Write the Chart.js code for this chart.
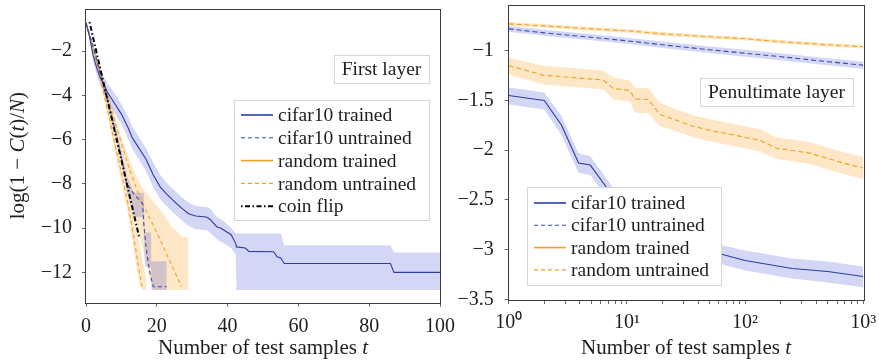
<!DOCTYPE html>
<html>
<head>
<meta charset="utf-8">
<script src="https://cdn.jsdelivr.net/npm/chart.js@4.4.0/dist/chart.umd.min.js"></script>
<style>
  body { margin: 0; background: #fff; overflow: hidden; }
  .panel { position: absolute; top: 0; }
</style>
</head>
<body>
<div class="panel" style="left:0px"><canvas id="first" width="460" height="363"></canvas></div>
<div class="panel" style="left:445px"><canvas id="penult" width="434" height="363"></canvas></div>
<script>
// series names
let names = ['cifar10 trained', 'cifar10 untrained', 'random trained', 'random untrained', 'coin flip'];

// ---------- first layer (t on a linear axis) ----------
let cifTrT  = [0, 1, 2, 3, 4, 5, 6, 8, 10, 12, 13, 15, 17, 19, 21, 23, 25, 27, 29, 31, 34, 35, 37, 38, 39, 41, 42.3, 42.5, 45, 46, 53, 54, 55, 56, 86, 87, 100];
let cifTr   = [-0.75, -1.35, -2.2, -2.75, -3.2, -3.5, -3.85, -4.35, -4.85, -5.5, -5.9, -6.4, -6.9, -7.6, -8.15, -8.5, -8.8, -9.1, -9.35, -9.45, -9.5, -9.6, -9.95, -10.0, -10.1, -10.3, -10.7, -10.85, -10.9, -11.05, -11.07, -11.3, -11.35, -11.6, -11.6, -12.0, -12.0];
let cifTrHi = [-0.7, -1.2, -1.95, -2.45, -2.85, -3.15, -3.45, -3.9, -4.4, -5.0, -5.4, -5.9, -6.4, -7.05, -7.6, -8.0, -8.3, -8.6, -8.85, -9.0, -9.05, -9.1, -9.5, -9.6, -9.7, -10.0, -10.24, -10.24, -10.24, -10.24, -10.24, -10.24, -10.24, -10.77, -10.77, -11.1, -11.1];
let cifTrLo = [-0.8, -1.5, -2.45, -3.05, -3.55, -3.85, -4.25, -4.8, -5.3, -6.0, -6.4, -6.9, -7.45, -8.15, -8.7, -9.05, -9.35, -9.65, -9.9, -10.05, -10.1, -10.2, -10.5, -10.6, -10.7, -10.9, -11.2, -12.8, -12.8, -12.8, -12.8, -12.8, -12.8, -12.8, -12.8, -12.8, -12.8];

let cifUnT  = [0, 2, 4, 6, 8, 10, 11.5, 13.5, 16, 16.3, 17, 18, 19, 22.8];
let cifUn   = [-0.73, -1.8, -3.0, -4.2, -5.4, -6.8, -8.0, -8.45, -8.9, -9.8, -10.9, -12.0, -12.65, -12.65];
let cifUnBT = [0, 2, 4, 6, 8, 10, 11.5, 13.4, 16.3, 16.6, 18.4, 18.5, 22.8];
let cifUnHi = [-0.68, -1.7, -2.85, -4.05, -5.2, -6.5, -7.6, -8.4, -8.4, -10.2, -10.2, -11.5, -11.5];
let cifUnLo = [-0.78, -1.9, -3.15, -4.35, -5.6, -7.0, -8.3, -9.5, -9.5, -11.75, -11.75, -12.8, -12.8];

let rndTrT  = [0, 2, 4, 6, 8, 10, 12, 14, 16, 18, 20, 22, 24, 26, 27];
let rndTr   = [-0.73, -1.8, -2.9, -4.0, -5.1, -6.15, -7.2, -8.1, -8.9, -9.55, -10.2, -10.9, -11.6, -12.3, -12.65];
let rndTrBT = [0, 2, 4, 6, 8, 10, 12, 14, 16, 18, 19, 20, 22, 24, 26, 27, 29];
let rndTrHi = [-0.65, -1.65, -2.7, -3.8, -4.85, -5.9, -6.8, -7.6, -8.2, -8.6, -8.8, -9.0, -9.4, -9.9, -10.2, -10.4, -10.4];
let rndTrLo = [-0.8, -2.0, -3.2, -4.5, -5.8, -7.0, -8.3, -9.6, -10.9, -12.2, -12.8, -12.8, -12.8, -12.8, -12.8, -12.8, -12.8];

let rndUnT  = [0, 2, 4, 6, 8, 10, 12, 14, 15, 16];
let rndUn   = [-0.73, -1.9, -3.2, -4.6, -6.1, -7.5, -9.0, -10.9, -11.9, -12.8];
let rndUnBT = [0, 2, 4, 6, 8, 10, 12, 14, 15, 16, 17];
let rndUnHi = [-0.66, -1.75, -3.0, -4.3, -5.7, -7.0, -8.3, -9.9, -10.7, -11.5, -12.3];
let rndUnLo = [-0.8, -2.05, -3.4, -4.85, -6.4, -7.9, -9.5, -11.5, -12.5, -12.8, -12.8];

let coinT = [1, 2, 3, 4, 5, 6, 7, 8, 9, 10, 11, 12, 13, 14, 15];
let coin  = [-0.69, -1.39, -2.08, -2.77, -3.47, -4.16, -4.85, -5.55, -6.24, -6.93, -7.62, -8.32, -9.01, -9.70, -10.40];

let firstXTicks = [0, 20, 40, 60, 80, 100];
let firstYTicks = [-12, -10, -8, -6, -4, -2];

// ---------- penultimate layer (t on a log axis) ----------
let pRndUnT  = [1, 2, 5, 10, 20, 50, 100, 200, 500, 1000];
let pRndUn   = [-0.73, -0.75, -0.78, -0.80, -0.83, -0.86, -0.88, -0.91, -0.94, -0.96];
let pRndUnHi = [-0.712, -0.732, -0.762, -0.782, -0.812, -0.842, -0.862, -0.892, -0.922, -0.942];
let pRndUnLo = [-0.748, -0.768, -0.798, -0.818, -0.848, -0.878, -0.898, -0.928, -0.958, -0.978];

let pCifUnT  = [1, 2, 5, 10, 20, 50, 100, 200, 500, 1000];
let pCifUn   = [-0.78, -0.82, -0.865, -0.90, -0.94, -0.99, -1.025, -1.06, -1.11, -1.145];
let pCifUnHi = [-0.75, -0.79, -0.835, -0.87, -0.908, -0.957, -0.99, -1.025, -1.075, -1.11];
let pCifUnLo = [-0.81, -0.85, -0.895, -0.93, -0.972, -1.023, -1.06, -1.095, -1.145, -1.18];

let pRndTrT  = [1, 1.96, 6.3, 7.7, 10.6, 11.7, 15.2, 19, 26.3, 36.3, 50.4, 133, 184, 354, 680, 1000];
let pRndTr   = [-1.15, -1.245, -1.295, -1.38, -1.40, -1.485, -1.49, -1.64, -1.70, -1.76, -1.80, -1.90, -1.98, -2.03, -2.13, -2.18];
let pRndTrHi = [-1.07, -1.15, -1.2, -1.27, -1.3, -1.37, -1.38, -1.52, -1.59, -1.65, -1.69, -1.79, -1.87, -1.92, -2.02, -2.07];
let pRndTrLo = [-1.24, -1.34, -1.39, -1.49, -1.51, -1.62, -1.63, -1.76, -1.81, -1.87, -1.91, -2.01, -2.09, -2.14, -2.24, -2.29];

let pCifTrT  = [1, 2, 2.8, 3.9, 4.9, 6.5, 8, 10, 15, 20, 30, 40, 60, 100, 250, 500, 1000];
let pCifTr   = [-1.45, -1.50, -1.75, -2.13, -2.15, -2.35, -2.5, -2.62, -2.75, -2.83, -2.92, -2.97, -3.04, -3.11, -3.19, -3.22, -3.27];
let pCifTrHi = [-1.37, -1.42, -1.66, -2.03, -2.06, -2.26, -2.41, -2.53, -2.66, -2.74, -2.83, -2.88, -2.95, -3.01, -3.09, -3.12, -3.17];
let pCifTrLo = [-1.54, -1.59, -1.85, -2.23, -2.25, -2.45, -2.6, -2.72, -2.85, -2.93, -3.02, -3.07, -3.14, -3.21, -3.29, -3.33, -3.38];

let penultXTicks = [1, 2, 3, 4, 5, 6, 7, 8, 9, 10, 20, 30, 40, 50, 60, 70, 80, 90, 100, 200, 300, 400, 500, 600, 700, 800, 900, 1000];
let penultYTicks = [-3.5, -3, -2.5, -2, -1.5, -1];

// ---------- look ----------
const FONT = '"Liberation Serif", serif';
const SIZE = 19.5;
const TICK_SIZE = 20;
const TITLE_SIZE = 21;
const TEXT = '#1e1e1e';
const BLUE = '#2c3e9c';
const BLUE_DASH = '#3a4cae';
const ORANGE = '#f5a020';
const BLUE_FILL = 'rgba(60,70,210,0.22)';
const ORANGE_FILL = 'rgba(250,160,30,0.25)';

function pts(t, v) {
    return t.map((x, i) => ({ x: x, y: v[i] }));
}

function band(list, t, hi, lo, color) {
    list.push({ data: pts(t, hi), borderColor: 'transparent', borderWidth: 0, pointRadius: 0, fill: false });
    list.push({ data: pts(t, lo), borderColor: 'transparent', borderWidth: 0, pointRadius: 0, fill: '-1', backgroundColor: color });
}

function line(list, t, v, color, width, dash) {
    list.push({ data: pts(t, v), borderColor: color, borderWidth: width, borderDash: dash, pointRadius: 0, fill: false });
}

function minus(v) {
    return (v < 0 ? '\u2212' : '') + Math.abs(v);
}

function richText(ctx, parts, x, y, size) {
    let w = 0;
    parts.forEach(p => {
        ctx.font = (p[1] ? 'italic ' : '') + size + 'px ' + FONT;
        w += ctx.measureText(p[0]).width;
    });
    let cx = x - w / 2;
    parts.forEach(p => {
        ctx.font = (p[1] ? 'italic ' : '') + size + 'px ' + FONT;
        ctx.fillText(p[0], cx, y);
        cx += ctx.measureText(p[0]).width;
    });
}

// keep the plot box exactly where the layout padding puts it
function noLabelPadding(s) {
    s.paddingTop = 0;
    s.paddingBottom = 0;
    s.paddingLeft = 0;
    s.paddingRight = 0;
}

// frame, tag box, legend and axis titles
const paperPlugin = {
    id: 'paper',
    afterDraw(chart, args, o) {
        const ctx = chart.ctx, a = chart.chartArea;
        ctx.save();
        ctx.setLineDash([]);
        ctx.lineWidth = 1;
        ctx.strokeStyle = '#3c3c3c';
        ctx.strokeRect(Math.round(a.left) - 0.5, Math.round(a.top) + 0.5, Math.round(a.right - a.left) + 1, Math.round(a.bottom - a.top));

        ctx.textBaseline = 'middle';

        // tag
        let t = o.tag;
        ctx.fillStyle = '#fff';
        ctx.strokeStyle = '#d6d6d6';
        ctx.fillRect(t.x, t.y, t.w, t.h);
        ctx.strokeRect(t.x + 0.5, t.y + 0.5, t.w, t.h);
        ctx.fillStyle = TEXT;
        ctx.font = SIZE + 'px ' + FONT;
        ctx.textAlign = 'center';
        ctx.fillText(t.text, t.x + t.w / 2, t.y + t.h / 2 + 1);

        // legend
        let L = o.legend;
        ctx.fillStyle = '#fff';
        ctx.strokeStyle = '#d6d6d6';
        ctx.fillRect(L.x, L.y, L.w, L.h);
        ctx.strokeRect(L.x + 0.5, L.y + 0.5, L.w, L.h);
        ctx.textAlign = 'left';
        L.items.forEach((it, i) => {
            let y = L.y + L.first + i * L.step;
            ctx.strokeStyle = it.color;
            ctx.lineWidth = it.width;
            ctx.setLineDash(it.dash);
            ctx.beginPath();
            ctx.moveTo(L.x + 7, y);
            ctx.lineTo(L.x + 39, y);
            ctx.stroke();
            ctx.setLineDash([]);
            ctx.fillStyle = TEXT;
            ctx.font = SIZE + 'px ' + FONT;
            ctx.fillText(it.label, L.x + 44, y + 1);
        });

        // axis titles
        ctx.fillStyle = TEXT;
        ctx.textAlign = 'left';
        richText(ctx, [['Number of test samples ', 0], ['t', 1]], (a.left + a.right) / 2, o.xTitleY, TITLE_SIZE);
        ctx.translate(o.yTitleX, (a.top + a.bottom) / 2);
        ctx.rotate(-Math.PI / 2);
        richText(ctx, [['log(1 \u2212 ', 0], ['C', 1], ['(', 0], ['t', 1], [')/', 0], ['N', 1], [')', 0]], 0, 0, TITLE_SIZE);
        ctx.restore();
    }
};

function tickFont() {
    return { family: FONT, size: TICK_SIZE };
}

function grid() {
    return { display: true, drawOnChartArea: false, drawTicks: true, tickLength: 4, color: '#666' };
}

// ---------- first layer chart ----------
let ds1 = [];
line(ds1, coinT, coin, '#000', 2, [1.5, 2.5, 5, 2.5]);
line(ds1, cifTrT, cifTr, BLUE, 1.1, []);
line(ds1, cifUnT, cifUn, BLUE_DASH, 1.1, [4, 3]);
line(ds1, rndUnT, rndUn, ORANGE, 1.1, [4, 3]);
line(ds1, rndTrT, rndTr, ORANGE, 1.1, [4, 3]);
band(ds1, cifTrT, cifTrHi, cifTrLo, BLUE_FILL);
band(ds1, cifUnBT, cifUnHi, cifUnLo, BLUE_FILL);
band(ds1, rndUnBT, rndUnHi, rndUnLo, ORANGE_FILL);
band(ds1, rndTrBT, rndTrHi, rndTrLo, ORANGE_FILL);

new Chart(document.getElementById('first'), {
    type: 'line',
    data: { datasets: ds1 },
    options: {
        responsive: false,
        animation: false,
        devicePixelRatio: 1,
        layout: { padding: { left: 0, right: 20, top: 8.5, bottom: 0 } },
        plugins: {
            legend: { display: false },
            tooltip: { enabled: false },
            filler: { drawTime: 'beforeDatasetsDraw' },
            paper: {
                tag: { x: 334, y: 55, w: 95, h: 28, text: 'First layer' },
                legend: {
                    x: 234, y: 100, w: 195, h: 120, first: 15, step: 22.8,
                    items: [
                        { label: names[0], color: BLUE, width: 1.6, dash: [] },
                        { label: names[1], color: BLUE_DASH, width: 1.1, dash: [4, 3] },
                        { label: names[2], color: ORANGE, width: 1.6, dash: [] },
                        { label: names[3], color: ORANGE, width: 1.1, dash: [4, 3] },
                        { label: names[4], color: '#000', width: 2, dash: [1.5, 2.5, 5, 2.5] }
                    ]
                },
                xTitleY: 348,
                yTitleX: 18
            }
        },
        scales: {
            x: {
                type: 'linear', min: 0, max: 100,
                afterFit: s => { s.height = 60.3; noLabelPadding(s); },
                afterBuildTicks: s => { s.ticks = firstXTicks.map(v => ({ value: v })); },
                ticks: { font: tickFont(), color: TEXT, padding: 8, maxRotation: 0, autoSkip: false },
                grid: grid(),
                border: { display: false }
            },
            y: {
                type: 'linear', min: -13.37, max: -0.08,
                afterFit: s => { s.width = 86; noLabelPadding(s); },
                afterBuildTicks: s => { s.ticks = firstYTicks.map(v => ({ value: v })); },
                ticks: { font: tickFont(), color: TEXT, padding: 10, callback: v => minus(v) },
                grid: grid(),
                border: { display: false }
            }
        }
    },
    plugins: [paperPlugin]
});

// ---------- penultimate layer chart ----------
let ds2 = [];
line(ds2, pCifTrT, pCifTr, BLUE, 1.1, []);
line(ds2, pCifUnT, pCifUn, BLUE_DASH, 1.1, [5, 3]);
line(ds2, pRndTrT, pRndTr, ORANGE, 1.1, [5, 3]);
line(ds2, pRndUnT, pRndUn, ORANGE, 1.1, [5, 3]);
band(ds2, pCifTrT, pCifTrHi, pCifTrLo, BLUE_FILL);
band(ds2, pCifUnT, pCifUnHi, pCifUnLo, BLUE_FILL);
band(ds2, pRndTrT, pRndTrHi, pRndTrLo, ORANGE_FILL);
band(ds2, pRndUnT, pRndUnHi, pRndUnLo, ORANGE_FILL);

const sup = { 0: '\u2070', 1: '\u00b9', 2: '\u00b2', 3: '\u00b3' };

new Chart(document.getElementById('penult'), {
    type: 'line',
    data: { datasets: ds2 },
    options: {
        responsive: false,
        animation: false,
        devicePixelRatio: 1,
        layout: { padding: { left: 0, right: 15.7, top: 5.3, bottom: 0 } },
        plugins: {
            legend: { display: false },
            tooltip: { enabled: false },
            filler: { drawTime: 'beforeDatasetsDraw' },
            paper: {
                tag: { x: 255, y: 78, w: 153, h: 28, text: 'Penultimate layer' },
                legend: {
                    x: 82, y: 187, w: 194, h: 98, first: 16, step: 22.3,
                    items: [
                        { label: names[0], color: BLUE, width: 1.6, dash: [] },
                        { label: names[1], color: BLUE_DASH, width: 1.1, dash: [4, 3] },
                        { label: names[2], color: ORANGE, width: 1.6, dash: [] },
                        { label: names[3], color: ORANGE, width: 1.1, dash: [4, 3] }
                    ]
                },
                xTitleY: 348,
                yTitleX: -100
            }
        },
        scales: {
            x: {
                type: 'logarithmic', min: 1, max: 1000,
                afterFit: s => { s.height = 63; noLabelPadding(s); },
                afterBuildTicks: s => { s.ticks = penultXTicks.map(v => ({ value: v })); },
                ticks: {
                    font: tickFont(), color: TEXT, padding: 7, maxRotation: 0, autoSkip: false,
                    callback: v => {
                        let e = Math.round(Math.log10(v));
                        return Math.abs(Math.pow(10, e) - v) < 1e-9 ? '10' + sup[e] : '';
                    }
                },
                grid: grid(),
                border: { display: false }
            },
            y: {
                type: 'linear', min: -3.507, max: -0.543,
                afterFit: s => { s.width = 63.7; noLabelPadding(s); },
                afterBuildTicks: s => { s.ticks = penultYTicks.map(v => ({ value: v })); },
                ticks: { font: tickFont(), color: TEXT, padding: 11, callback: v => minus(v) },
                grid: grid(),
                border: { display: false }
            }
        }
    },
    plugins: [paperPlugin]
});
</script>
</body>
</html>
